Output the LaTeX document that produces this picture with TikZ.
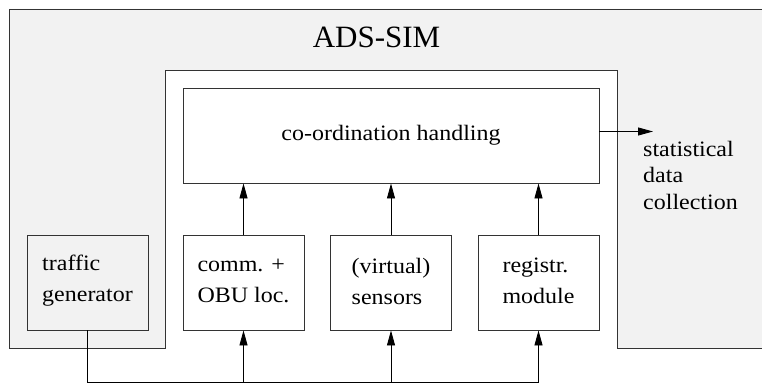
\documentclass[tikz,border=0pt]{standalone}
\usepackage{fontspec}
\setmainfont{Liberation Serif}[FakeStretch=1.09]
\newfontfamily\titlefont{Liberation Serif}
\usetikzlibrary{arrows.meta}
\definecolor{panel}{HTML}{F2F2F2}
\definecolor{edge}{HTML}{333333}
\begin{document}
\begin{tikzpicture}[x=1pt,y=-1pt,
  font=\fontsize{22}{31}\selectfont,
  box/.style={draw=edge, line width=0.9pt, minimum width=121pt, minimum height=95pt,
    inner sep=0pt, align=left, fill=white},
  lbl/.style={inner sep=0pt, align=left},
  arr/.style={draw=black, line width=0.9pt, -{Triangle[length=15pt,width=8pt]}}]
\useasboundingbox (0,0) rectangle (762,385);
\clip (0,0) rectangle (762,385);
\fill[white] (0,0) rectangle (762,385);
\draw[fill=panel, draw=edge, line width=0.9pt]
  (9,9) -- (780,9) -- (780,348) -- (617,348) -- (617,70) -- (165.5,70)
  -- (165.5,348) -- (9,348) -- cycle;
\node[font=\titlefont\fontsize{31}{36}\selectfont] (title) at (376.5,37) {ADS-SIM};
\node[box, minimum width=416pt] (coord) at (391,135.5) {co-ordination handling};
\node[box, fill=panel] (traffic) at (87.5,282.5) {};
\node[box] (comm) at (243.5,282.5) {};
\node[box] (sens) at (391,282.5) {};
\node[box] (reg) at (538.5,282.5) {};
\node[lbl] (t1) at (87.5,281) {traffic\\generator};
\node[lbl] (t2) at (243.5,281) {comm. +\\OBU loc.};
\node[lbl] (t3) at (391,281) {(virtual)\\sensors};
\node[lbl] (t4) at (538.5,281) {registr.\\module};
\coordinate (busend) at (538.5,382.7);
\coordinate (stat) at (653,131.5);
\draw[arr] (traffic.south) |- (busend) -- (reg.south);
\draw[arr] (comm.south |- busend) -- (comm.south);
\draw[arr] (sens.south |- busend) -- (sens.south);
\draw[arr] (comm.north) -- (comm.north |- coord.south);
\draw[arr] (sens.north) -- (sens.north |- coord.south);
\draw[arr] (reg.north) -- (reg.north |- coord.south);
\draw[arr] (coord.east |- stat) -- (stat);
\node[anchor=north west, inner sep=0pt, align=left,
  font=\fontsize{22}{26.5}\selectfont] (coll) at (643,141)
  {statistical\\data\\collection};
\end{tikzpicture}
\end{document}
